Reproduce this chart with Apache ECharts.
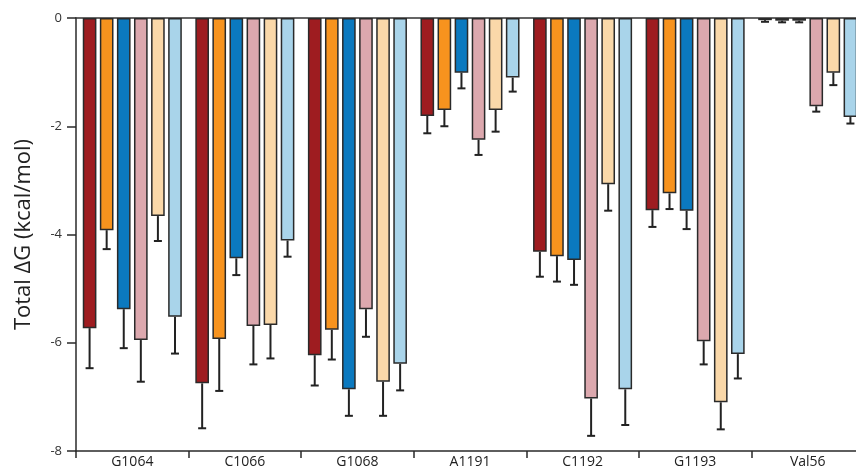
<!DOCTYPE html>
<html>
<head>
<meta charset="utf-8">
<script src="https://cdn.jsdelivr.net/npm/echarts@6/dist/echarts.min.js"></script>
<style>html,body{margin:0;padding:0;background:#fff;}#c{width:856px;height:472px;}</style>
</head>
<body>
<div id="c"></div>
<script>
const categories = ['G1064', 'C1066', 'G1068', 'A1191', 'C1192', 'G1193', 'Val56'];
const yTicks = [0, -2, -4, -6, -8];
const s1 = [-5.73, -6.75, -6.23, -1.81, -4.32, -3.55, -0.04];
const s2 = [-3.92, -5.93, -5.76, -1.70, -4.40, -3.24, -0.05];
const s3 = [-5.38, -4.44, -6.86, -1.01, -4.47, -3.56, -0.05];
const s4 = [-5.95, -5.69, -5.38, -2.25, -7.03, -5.97, -1.63];
const s5 = [-3.66, -5.67, -6.72, -1.70, -3.07, -7.10, -1.01];
const s6 = [-5.52, -4.11, -6.39, -1.10, -6.86, -6.21, -1.83];
const e1 = [0.74, 0.83, 0.56, 0.32, 0.46, 0.31, 0.03];
const e2 = [0.35, 0.96, 0.55, 0.30, 0.47, 0.29, 0.03];
const e3 = [0.72, 0.31, 0.49, 0.29, 0.46, 0.34, 0.03];
const e4 = [0.77, 0.71, 0.51, 0.28, 0.69, 0.43, 0.10];
const e5 = [0.46, 0.62, 0.63, 0.40, 0.49, 0.50, 0.23];
const e6 = [0.68, 0.30, 0.49, 0.26, 0.66, 0.45, 0.12];

const values = [s1, s2, s3, s4, s5, s6];
const errors = [e1, e2, e3, e4, e5, e6];
const colors = ['#9E1C20', '#F7931E', '#0B79BF', '#DCA8AE', '#FAD8A9', '#A9D4EA'];

const N = 6, CAT_GAP = 0.12, BAR_GAP = 0.25;
const font = 'Open Sans';

const series = [];
values.forEach((vals, i) => {
  series.push({
    type: 'bar',
    data: vals,
    barCategoryGap: '12%',
    barGap: '25%',
    itemStyle: { color: colors[i], borderColor: '#2a2a2a', borderWidth: 1.5 },
    z: 2
  });
});
values.forEach((vals, i) => {
  series.push({
    type: 'custom',
    xAxisIndex: 0,
    yAxisIndex: 0,
    z: 3,
    data: vals.map((v, k) => [k, v, errors[i][k]]),
    renderItem: function (params, api) {
      const k = api.value(0);
      const v = api.value(1);
      const e = api.value(2);
      const band = api.size([1, 0])[0];
      const bw = band * (1 - CAT_GAP) / (N + (N - 1) * BAR_GAP);
      const total = bw * N + bw * BAR_GAP * (N - 1);
      const off = -total / 2 + bw / 2 + i * bw * (1 + BAR_GAP);
      const p0 = api.coord([k, v]);
      const p1 = api.coord([k, v - e]);
      const x = p0[0] + off;
      const cap = 4;
      return {
        type: 'group',
        children: [
          { type: 'line', shape: { x1: x, y1: p0[1], x2: x, y2: p1[1] }, style: { stroke: '#222', lineWidth: 2 } },
          { type: 'line', shape: { x1: x - cap, y1: p1[1], x2: x + cap, y2: p1[1] }, style: { stroke: '#222', lineWidth: 2 } }
        ]
      };
    }
  });
});

const chart = echarts.init(document.getElementById('c'), null, { renderer: 'canvas' });
chart.setOption({
  animation: false,
  backgroundColor: '#fff',
  grid: { left: 76, right: -8, top: 18, bottom: 21, containLabel: false, outerBoundsMode: 'none' },
  xAxis: [
    {
      type: 'category',
      data: categories,
      position: 'bottom',
      axisLine: { onZero: false, lineStyle: { color: '#2a2a2a', width: 1.5 } },
      axisTick: { show: true, length: 7, lineStyle: { color: '#2a2a2a', width: 1.5 } },
      axisLabel: { color: '#222', fontSize: 14, fontFamily: font, margin: 4 }
    },
    {
      type: 'category',
      data: categories,
      position: 'top',
      axisLine: { onZero: false, lineStyle: { color: '#333', width: 1.5 } },
      axisTick: { show: false },
      axisLabel: { show: false }
    }
  ],
  yAxis: {
    type: 'value',
    min: yTicks[yTicks.length - 1],
    max: yTicks[0],
    interval: 2,
    name: 'Total \u0394G (kcal/mol)',
    nameLocation: 'middle',
    nameGap: 41,
    nameTextStyle: { color: '#222', fontSize: 22, fontFamily: font },
    axisLine: { show: true, lineStyle: { color: '#2a2a2a', width: 1.5 } },
    axisTick: { show: true, length: 9, lineStyle: { color: '#2a2a2a', width: 1.5 } },
    axisLabel: { color: '#333', fontSize: 13, fontFamily: font, margin: 14 },
    splitLine: { show: false }
  },
  series: series
});
</script>
</body>
</html>
